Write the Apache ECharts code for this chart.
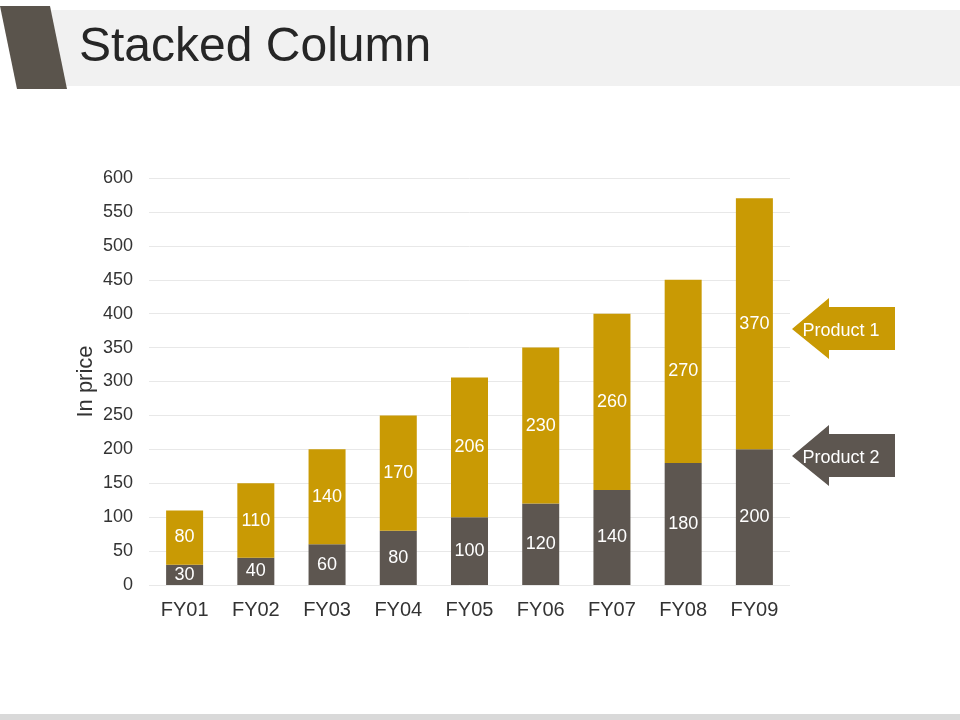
<!DOCTYPE html>
<html>
<head>
<meta charset="utf-8">
<title>Stacked Column</title>
<script src="https://cdn.jsdelivr.net/npm/echarts@6/dist/echarts.min.js"></script>
<style>
  html, body { margin: 0; padding: 0; background: #ffffff; }
  #stackedcolumn { width: 960px; height: 720px; }
</style>
</head>
<body>
<div id="stackedcolumn"></div>
<script>
var categories = ['FY01', 'FY02', 'FY03', 'FY04', 'FY05', 'FY06', 'FY07', 'FY08', 'FY09'];
var product2 = [30, 40, 60, 80, 100, 120, 140, 180, 200];
var product1 = [80, 110, 140, 170, 206, 230, 260, 270, 370];
var seriesNames = ['Product 1', 'Product 2'];

var gold = '#c99a04';
var dark = '#5d5650';
var font = '"Liberation Sans", Arial, sans-serif';

var chartDom = document.getElementById('stackedcolumn');
var myChart = echarts.init(chartDom);
var option;

// left-pointing arrow used as a legend tag
function arrow(y, color, text) {
    return [
        {
            type: 'polygon',
            shape: {
                points: [[792, y], [829, y - 31], [829, y - 22], [895, y - 22],
                         [895, y + 21], [829, y + 21], [829, y + 30]]
            },
            style: { fill: color }
        },
        {
            type: 'text',
            x: 841, y: y + 2,
            style: {
                text: text, fill: '#ffffff', font: '18px ' + font,
                align: 'center', verticalAlign: 'middle'
            }
        }
    ];
}

option = {
    backgroundColor: '#ffffff',
    animation: false,
    title: {
        text: 'Stacked Column',
        left: 74, top: 19,
        textStyle: { color: '#262626', fontSize: 48, fontWeight: 'normal', fontFamily: font }
    },
    grid: { left: 149, right: 170, top: 178, bottom: 135 },
    xAxis: {
        type: 'category',
        data: categories,
        axisLine: { show: false },
        axisTick: { show: false },
        axisLabel: { color: '#333333', fontSize: 20, fontFamily: font, margin: 15 }
    },
    yAxis: {
        type: 'value',
        min: 0, max: 600, interval: 50,
        name: 'In price',
        nameLocation: 'middle',
        nameGap: 52,
        nameMoveOverlap: false,
        nameTextStyle: { color: '#333333', fontSize: 22, fontFamily: font },
        axisLine: { show: false },
        axisTick: { show: false },
        axisLabel: { color: '#333333', fontSize: 18, fontFamily: font, margin: 16 },
        splitLine: { lineStyle: { color: '#e8e8e8', width: 1 } }
    },
    series: [
        {
            name: seriesNames[1],
            type: 'bar',
            stack: 'total',
            data: product2,
            barWidth: 37,
            itemStyle: { color: dark },
            label: { show: true, position: 'inside', color: '#ffffff', fontSize: 18, fontFamily: font }
        },
        {
            name: seriesNames[0],
            type: 'bar',
            stack: 'total',
            data: product1,
            barWidth: 37,
            itemStyle: { color: gold },
            label: { show: true, position: 'inside', color: '#ffffff', fontSize: 18, fontFamily: font }
        }
    ],
    graphic: [
        { type: 'rect', z: -10, shape: { x: 50, y: 10, width: 910, height: 76 }, style: { fill: '#f1f1f1' } },
        { type: 'polygon', shape: { points: [[0, 6], [50, 6], [67, 89], [17, 89]] }, style: { fill: '#5a544c' } },
        { type: 'rect', shape: { x: 0, y: 714, width: 960, height: 6 }, style: { fill: '#d9d9d9' } }
    ].concat(arrow(329, gold, seriesNames[0]), arrow(456, dark, seriesNames[1]))
};

option && myChart.setOption(option);
</script>
</body>
</html>
